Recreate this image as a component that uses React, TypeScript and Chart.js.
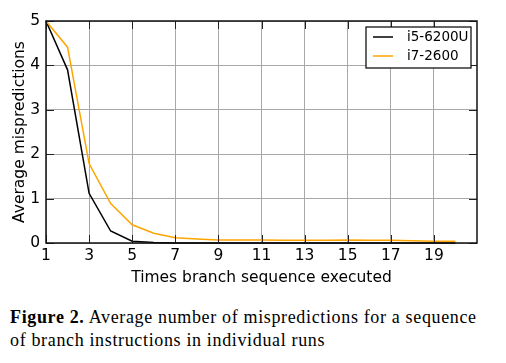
import React, { useEffect, useRef } from "react";
import { Chart, registerables } from "chart.js";

Chart.register(...registerables);

const xValues = [1, 2, 3, 4, 5, 6, 7, 8, 9, 10, 11, 12, 13, 14, 15, 16, 17, 18, 19, 20];
const i5Values = [5, 3.9, 1.12, 0.27, 0.04, 0.01, 0, 0, 0, 0, 0, 0, 0, 0, 0, 0, 0, 0, 0, 0];
const i7Values = [5, 4.41, 1.79, 0.89, 0.41, 0.22, 0.12, 0.09, 0.07, 0.07, 0.07, 0.06, 0.06, 0.06, 0.07, 0.06, 0.06, 0.05, 0.04, 0.04];
const seriesLabels = ["i5-6200U", "i7-2600"];
const seriesColors = ["#000000", "#ffa500"];
const xTitle = "Times branch sequence executed";
const yTitle = "Average mispredictions";

const FONT = "'DejaVu Sans', sans-serif";

const framePlugin = {
  id: "frame",
  afterDatasetsDraw(chart: any) {
    const { ctx, chartArea: a, scales } = chart;
    ctx.save();
    // mirrored tick marks
    ctx.strokeStyle = "#222";
    ctx.lineWidth = 1;
    const tl = 8;
    scales.x.ticks.forEach((t: any) => {
      const px = Math.round(scales.x.getPixelForValue(t.value)) + 0.5;
      ctx.beginPath();
      ctx.moveTo(px, a.bottom);
      ctx.lineTo(px, a.bottom - tl);
      ctx.moveTo(px, a.top);
      ctx.lineTo(px, a.top + tl);
      ctx.stroke();
    });
    scales.y.ticks.forEach((t: any) => {
      const py = Math.round(scales.y.getPixelForValue(t.value)) + 0.5;
      ctx.beginPath();
      ctx.moveTo(a.left, py);
      ctx.lineTo(a.left + tl, py);
      ctx.moveTo(a.right, py);
      ctx.lineTo(a.right - tl, py);
      ctx.stroke();
    });
    // border
    ctx.strokeStyle = "#111";
    ctx.lineWidth = 1.5;
    ctx.strokeRect(a.left, a.top, a.right - a.left, a.bottom - a.top);

    // legend box
    const bw = 105;
    const bh = 41;
    const bx = a.right - 6 - bw;
    const by = a.top + 6;
    ctx.fillStyle = "#fff";
    ctx.fillRect(bx, by, bw, bh);
    ctx.strokeStyle = "#000";
    ctx.lineWidth = 1.2;
    ctx.strokeRect(bx, by, bw, bh);
    ctx.font = `13.5px ${FONT}`;
    ctx.textBaseline = "middle";
    ctx.textAlign = "left";
    chart.data.datasets.forEach((ds: any, i: number) => {
      const y = by + 10 + i * 19;
      ctx.strokeStyle = ds.borderColor;
      ctx.lineWidth = 1.5;
      ctx.beginPath();
      ctx.moveTo(bx + 7, y);
      ctx.lineTo(bx + 27, y);
      ctx.stroke();
      ctx.fillStyle = "#000";
      ctx.fillText(ds.label, bx + 41, y);
    });
    ctx.restore();
  },
};

export default function App() {
  const ref = useRef<HTMLCanvasElement | null>(null);

  useEffect(() => {
    if (!ref.current) return;
    const chart = new Chart(ref.current, {
      type: "line",
      data: {
        labels: xValues,
        datasets: [
          {
            label: seriesLabels[0],
            data: xValues.map((x, i) => ({ x, y: i5Values[i] })),
            borderColor: seriesColors[0],
            borderWidth: 1.5,
            pointRadius: 0,
            tension: 0,
            fill: false,
            clip: false,
            order: 2,
          },
          {
            label: seriesLabels[1],
            data: xValues.map((x, i) => ({ x, y: i7Values[i] })),
            borderColor: seriesColors[1],
            borderWidth: 1.5,
            pointRadius: 0,
            tension: 0,
            fill: false,
            clip: false,
            order: 1,
          },
        ],
      },
      options: {
        responsive: false,
        animation: false,
        layout: { padding: { top: 21, right: 29, left: 0, bottom: 0 } },
        plugins: { legend: { display: false }, tooltip: { enabled: false } },
        scales: {
          x: {
            type: "linear",
            min: 1,
            max: 21,
            afterBuildTicks: (s: any) => {
              s.ticks = s.ticks.filter((t: any) => t.value <= 19);
            },
            afterFit: (s: any) => {
              s.height = 47;
            },
            ticks: {
              stepSize: 2,
              color: "#000",
              padding: 4,
              maxRotation: 0,
              font: { family: FONT, size: 15.5 },
            },
            grid: { color: "#a8a8a8", lineWidth: 1, drawTicks: false },
            border: { display: false },
            title: {
              display: true,
              text: xTitle,
              color: "#000",
              font: { family: FONT, size: 15.5 },
              padding: { top: 0, bottom: 3 },
            },
          },
          y: {
            min: 0,
            max: 5,
            afterFit: (s: any) => {
              s.width = 46;
            },
            ticks: {
              stepSize: 1,
              color: "#000",
              padding: 6,
              font: { family: FONT, size: 15.5 },
            },
            grid: { color: "#a8a8a8", lineWidth: 1, drawTicks: false },
            border: { display: false },
            title: {
              display: true,
              text: yTitle,
              color: "#000",
              font: { family: FONT, size: 15.5 },
              padding: { top: 10.5, bottom: 0 },
            },
          },
        },
      },
      plugins: [framePlugin],
    });
    return () => chart.destroy();
  }, []);

  return (
    <div style={{ position: "absolute", left: 0, top: 0, width: 506, height: 363, background: "#fff" }}>
      <canvas ref={ref} width={506} height={290} style={{ position: "absolute", left: 0, top: 0, width: 506, height: 290 }} />
      <div
        style={{
          position: "absolute",
          left: 10,
          top: 306,
          fontFamily: "'Liberation Serif', serif",
          fontSize: 18,
          lineHeight: "23px",
          letterSpacing: "0.65px",
          color: "#000",
          whiteSpace: "nowrap",
        }}
      >
        <b>Figure 2.</b> Average number of mispredictions for a sequence
        <br />
        of branch instructions in individual runs
      </div>
    </div>
  );
}
